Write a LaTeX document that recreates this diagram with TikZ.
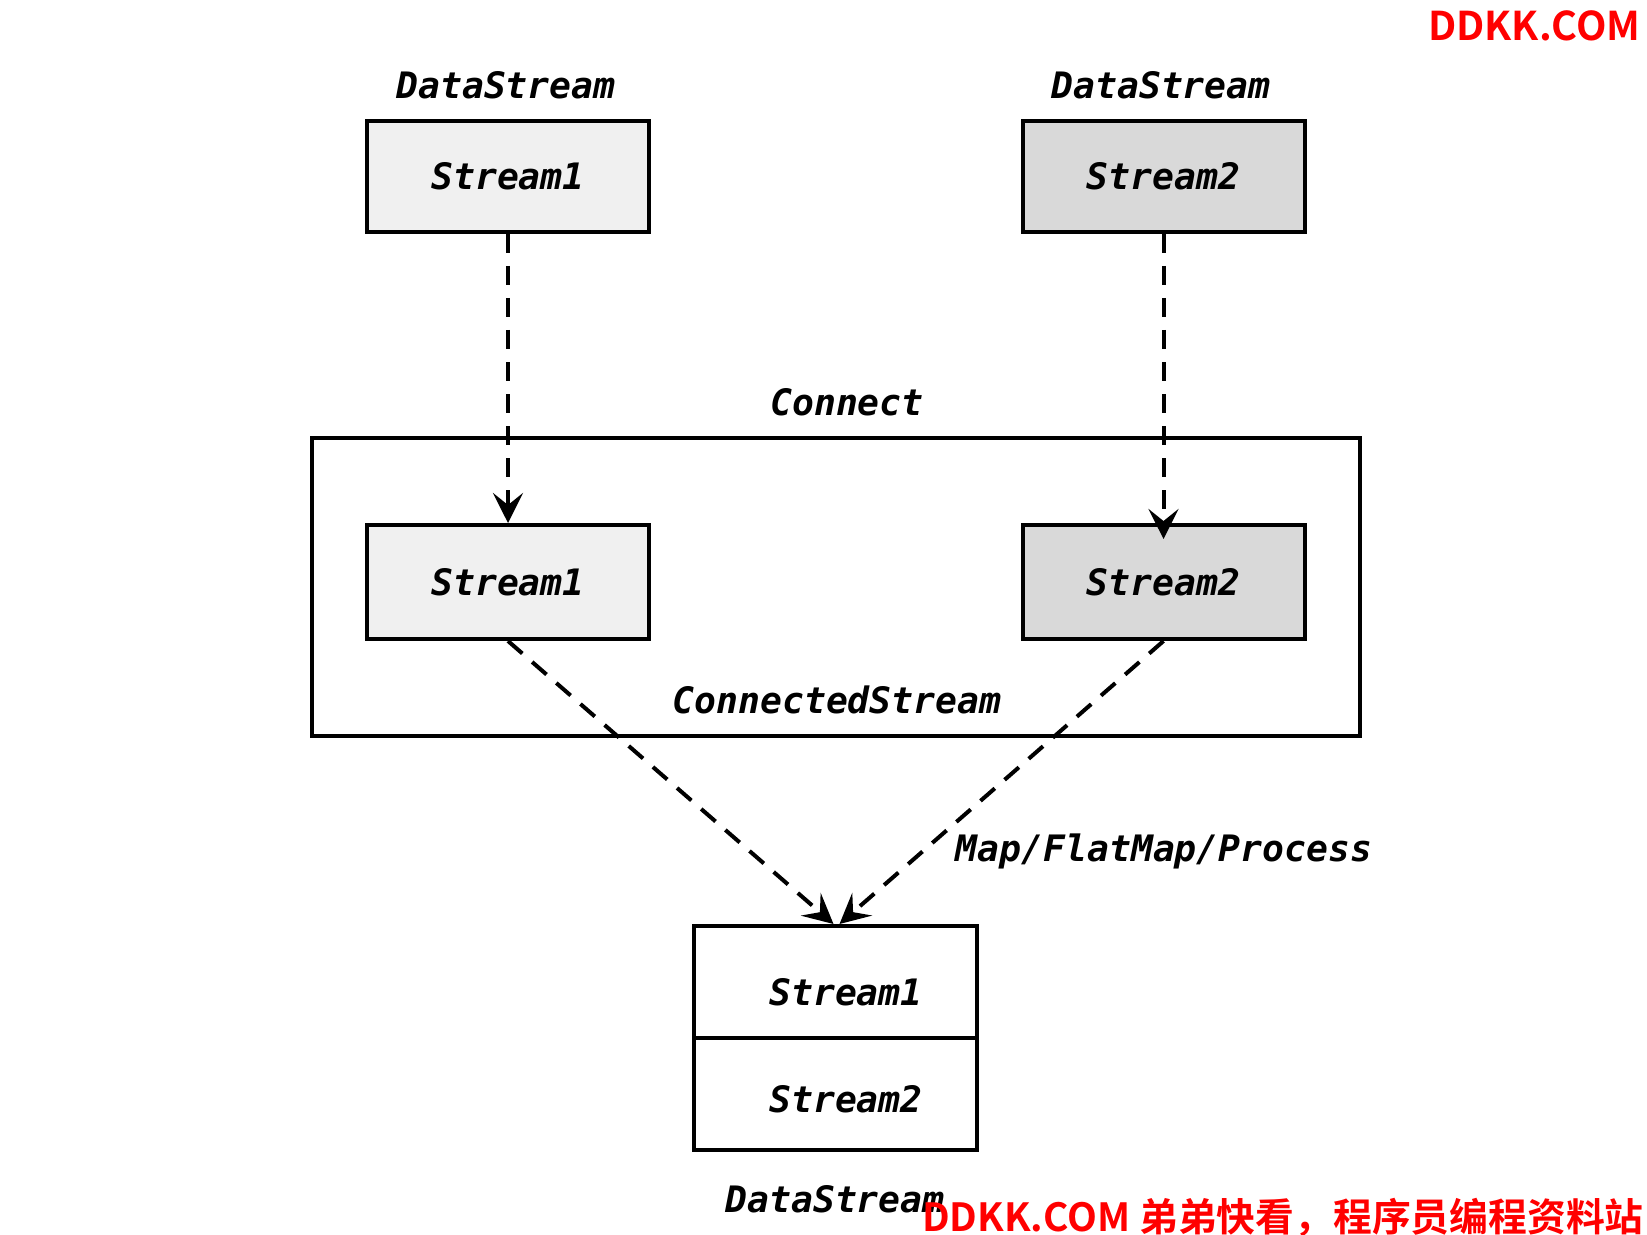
\documentclass[tikz,border=0pt]{standalone}
\usepackage{fontspec}
\usetikzlibrary{arrows.meta}
\newfontfamily\monoit{DejaVu Sans Mono}[UprightFont=*-Bold,ItalicFont=* Bold Oblique]
\newfontfamily\wmfont{Noto Sans CJK SC Bold}
\definecolor{lightfill}{HTML}{F0F0F0}
\definecolor{darkfill}{HTML}{D9D9D9}
\begin{document}
\begin{tikzpicture}[x=0.5pt,y=-0.5pt,
  txt/.style={font=\fontsize{18.2pt}{20pt}\selectfont\monoit\itshape, inner sep=0pt},
  streambox/.style={draw, line width=2pt, minimum width=141pt, minimum height=55.5pt, inner sep=0pt, font=\fontsize{18.2pt}{20pt}\selectfont\monoit\itshape},
  dashconn/.style={line width=2pt, dash pattern=on 9.5pt off 6.5pt, -{Stealth[length=15pt,width=15pt,inset=6pt]}},
  wm/.style={text=red, inner sep=0pt}]
\useasboundingbox (0,0) rectangle (1647,1235);
% top sources
\node[streambox, fill=lightfill] (s1) at (508,176.5) {Stream1};
\node[streambox, fill=darkfill] (s2) at (1163.5,176.5) {Stream2};
\node[txt] (ds1) at (506,85) {DataStream};
\node[txt] (ds2) at (1161,85) {DataStream};
% connected stream
\node[draw, line width=2pt, minimum width=524pt, minimum height=149pt, inner sep=0pt] (cs) at (836,587) {};
\node[txt] (connect) at (847,402) {Connect};
\node[streambox, fill=lightfill, minimum height=57pt] (c1) at (508,582) {Stream1};
\node[streambox, fill=darkfill, minimum height=57pt] (c2) at (1163.5,582) {Stream2};
\node[txt] (cslabel) at (837,700) {ConnectedStream};
% result
\node[streambox, minimum width=141.5pt, minimum height=56pt] (b1) at (835.5,982) {};
\node[streambox, minimum width=141.5pt, minimum height=56pt] (b2) at (835.5,1094) {};
\node[txt] (b1t) at (846,992) {Stream1};
\node[txt] (b2t) at (846,1099) {Stream2};
\node[txt] (ds3) at (835,1199) {DataStream};
\node[txt] (op) at (1164,851) {Map/FlatMap/Process};
% connectors
\draw[dashconn] (s1.south) -- (c1.north);
\draw[dashconn] (s2.south) -- ([yshift=-8pt]c2.north);
\draw[dashconn] (c1.south) -- ([xshift=-1pt]b1.north);
\draw[dashconn] (c2.south) -- ([xshift=2pt]b1.north);
% watermarks
\node[wm, anchor=east, font=\fontsize{19.8pt}{21pt}\selectfont\wmfont] (wm1) at (1641,26) {DDKK.COM};
\node[wm, anchor=east, font=\fontsize{19.4pt}{21pt}\selectfont\wmfont] (wm2) at (1644,1218) {DDKK.COM 弟弟快看，程序员编程资料站};
\end{tikzpicture}
\end{document}
